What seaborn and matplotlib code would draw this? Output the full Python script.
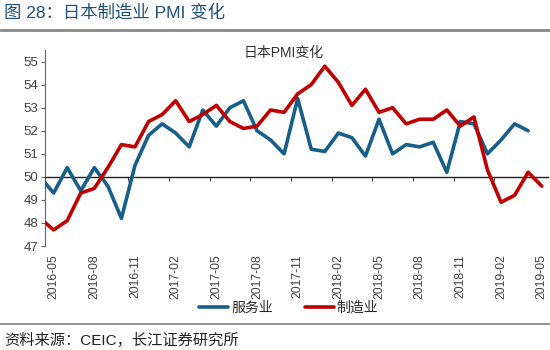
import matplotlib
matplotlib.use("Agg")
import matplotlib.pyplot as plt
import seaborn as sns
import numpy as np
import pandas as pd

# months shown on the category axis (first one is partly clipped by the axis)
months = pd.period_range("2016-04", "2019-05", freq="M").strftime("%Y-%m").tolist()

services = [50.0, 49.3, 50.4, 49.4, 50.4, 49.6, 48.2, 50.5, 51.8, 52.3,
            51.9, 51.3, 52.9, 52.2, 53.0, 53.3, 52.0, 51.6, 51.0, 53.4,
            51.2, 51.1, 51.9, 51.7, 50.9, 52.5, 51.0, 51.4, 51.3, 51.5,
            50.2, 52.4, 52.3, 51.0, 51.6, 52.3, 52.0, np.nan]
manufacturing = [48.2, 47.7, 48.1, 49.3, 49.5, 50.4, 51.4, 51.3, 52.4, 52.7,
                 53.3, 52.4, 52.7, 53.1, 52.4, 52.1, 52.2, 52.9, 52.8, 53.6,
                 54.0, 54.8, 54.1, 53.1, 53.8, 52.8, 53.0, 52.3, 52.5, 52.5,
                 52.9, 52.2, 52.6, 50.3, 48.9, 49.2, 50.2, 49.6]

series_names = ["服务业", "制造业"]
colors = ["#175E8A", "#C00000"]
yticks = [47, 48, 49, 50, 51, 52, 53, 54, 55]

df = pd.DataFrame({"idx": range(len(months)), "month": months,
                   "服务业": services, "制造业": manufacturing})
long = df.melt(id_vars=["idx", "month"], value_vars=series_names,
               var_name="series", value_name="value").dropna()

sns.set_style("white")
mixed = ["Liberation Sans", "Noto Sans CJK SC", "DejaVu Sans"]
cjk = ["Noto Sans CJK SC", "DejaVu Sans"]
plt.rcParams["font.family"] = mixed

fig = plt.figure(figsize=(5.5, 3.5), dpi=100)
ax = fig.add_axes([0.082, 0.297, 0.914, 0.56])

sns.lineplot(data=long, x="idx", y="value", hue="series", hue_order=series_names,
             palette=colors, linewidth=2.6, ax=ax, zorder=3)

ax.set_xlim(0.37, 37.45)
ax.set_ylim(47, 55.5)
ax.set_yticks(yticks)
ax.set_xlabel("")
ax.set_ylabel("")

# x axis crosses at 50, tick marks between categories
ax.spines["bottom"].set_position(("data", 50))
ax.spines["bottom"].set_color("#222222")
ax.spines["bottom"].set_linewidth(1.0)
ax.spines["top"].set_visible(False)
ax.spines["right"].set_visible(False)
ax.spines["left"].set_color("#666666")
ax.set_xticks(np.arange(3.5, 37, 3))
ax.tick_params(axis="x", labelbottom=False, length=3, width=0.8,
               direction="out", color="#444444", bottom=True)
ax.tick_params(axis="y", length=3, width=0.8, direction="out", color="#666666",
               left=True, labelsize=9.5, labelcolor="#404040", pad=2)

# month labels at the bottom of the plot area
label_idx = list(range(1, len(months), 3))
sec = ax.secondary_xaxis("bottom")
sec.set_xticks(label_idx, [months[i] for i in label_idx])
sec.tick_params(length=0, labelsize=8.8, labelcolor="#404040", pad=6,
                labelrotation=90)
sec.spines["bottom"].set_visible(False)

fig.text(0.515, 0.848, "日本PMI变化", ha="center", va="center",
         fontsize=10, color="#333333", family=mixed)

handles, labels = ax.get_legend_handles_labels()
ax.get_legend().remove()
fig.legend(handles, labels, loc="center", bbox_to_anchor=(0.525, 0.12),
           ncol=2, frameon=False, handlelength=2.1, handletextpad=0.2,
           columnspacing=2.3, prop={"family": cjk, "size": 10})

# report header and footer
fig.text(0.008, 0.965, "图 28：日本制造业 PMI 变化", ha="left", va="center",
         fontsize=12.5, color="#1F4E79", family=mixed)
fig.add_artist(plt.Line2D([0, 1], [0.913, 0.913], transform=fig.transFigure,
                          color="#888888", linewidth=2))
fig.add_artist(plt.Line2D([0, 1], [0.075, 0.075], transform=fig.transFigure,
                          color="#888888", linewidth=1.3))
fig.text(0.008, 0.026, "资料来源：CEIC，长江证券研究所", ha="left", va="center",
         fontsize=11, color="#222222", family=mixed)

fig.savefig("out.png", dpi=100)
